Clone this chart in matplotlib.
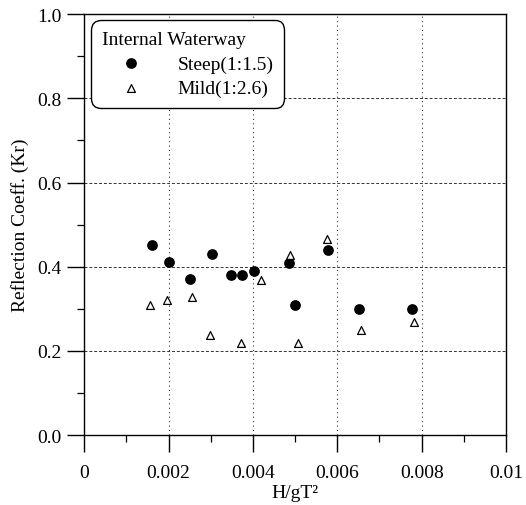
import matplotlib

matplotlib.use("Agg")
import matplotlib.pyplot as plt
from matplotlib.ticker import MultipleLocator, FuncFormatter

plt.rcParams.update({
    "font.family": ["Liberation Serif", "DejaVu Serif"],
    "font.size": 14,
    "axes.linewidth": 1.0,
})

# Internal waterway, reflection coefficient vs wave steepness
steep_x = [0.00161, 0.00200, 0.00252, 0.00302, 0.00348, 0.00375,
           0.00402, 0.00486, 0.00500, 0.00578, 0.00651, 0.00776]
steep_kr = [0.452, 0.411, 0.371, 0.431, 0.380, 0.380,
            0.390, 0.409, 0.310, 0.439, 0.299, 0.299]

mild_x = [0.00157, 0.00197, 0.00255, 0.00298, 0.00372, 0.00420,
          0.00487, 0.00508, 0.00576, 0.00657, 0.00783]
mild_kr = [0.310, 0.321, 0.328, 0.238, 0.218, 0.368,
           0.428, 0.218, 0.466, 0.249, 0.268]

x_ticks = [0, 0.002, 0.004, 0.006, 0.008, 0.01]
x_labels = ["0", "0.002", "0.004", "0.006", "0.008", "0.01"]


def main() -> int:
    fig = plt.figure(figsize=(5.26, 5.06), dpi=100)
    ax = fig.add_axes([0.160, 0.138, 0.802, 0.832])

    ax.scatter(steep_x, steep_kr, s=60, marker="o", color="black",
               linewidths=0, label="Steep(1:1.5)", zorder=3)
    ax.scatter(mild_x, mild_kr, s=32, marker="^", facecolors="white",
               edgecolors="black", linewidths=0.9, label="Mild(1:2.6)", zorder=3)

    ax.set_xlim(0, 0.01)
    ax.set_ylim(0, 1.0)
    ax.set_xticks(x_ticks)
    ax.set_xticklabels(x_labels)
    ax.xaxis.set_minor_locator(MultipleLocator(0.001))
    ax.yaxis.set_major_locator(MultipleLocator(0.2))
    ax.yaxis.set_major_formatter(FuncFormatter(lambda v, _p: f"{v:.1f}"))
    ax.yaxis.set_minor_locator(MultipleLocator(0.1))

    ax.tick_params(which="major", direction="out", length=12, width=1.0,
                   top=False, right=False, pad=9)
    ax.tick_params(which="minor", direction="out", length=5, width=0.9,
                   top=False, right=False)
    ax.tick_params(axis="y", which="major", pad=4)

    ax.grid(axis="y", which="major", linestyle=(0, (3, 2)), color="black",
            linewidth=0.7, alpha=0.8)
    ax.grid(axis="x", which="major", linestyle=(0, (1, 3)), color="black",
            linewidth=0.8, alpha=0.8)

    ax.set_xlabel("H/gT²", labelpad=2)
    ax.set_ylabel("Reflection Coeff. (Kr)", labelpad=6)

    leg = ax.legend(title="Internal Waterway", loc="upper left",
                    bbox_to_anchor=(0.012, 0.99), frameon=True, fancybox=True,
                    framealpha=1.0, edgecolor="black", handletextpad=0.9,
                    borderpad=0.35, labelspacing=0.35, handlelength=3.0,
                    borderaxespad=0.3, alignment="left",
                    fontsize=14, title_fontsize=14)
    leg.get_frame().set_linewidth(1.0)
    leg.get_frame().set_boxstyle("round", pad=0.2, rounding_size=0.5)

    fig.savefig("out.png", dpi=100)
    plt.close(fig)
    return 0


if __name__ == "__main__":
    raise SystemExit(main())
